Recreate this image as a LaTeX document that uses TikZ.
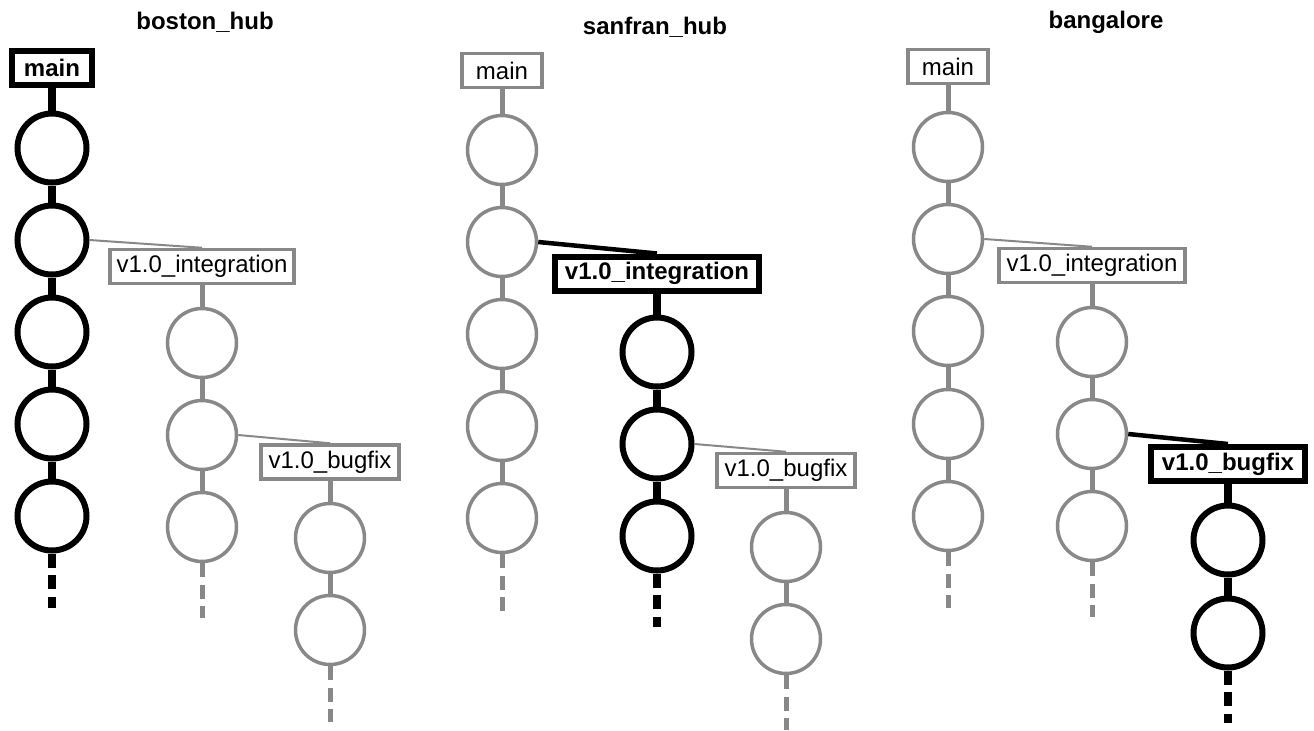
\documentclass[tikz,border=0pt]{standalone}
\usepackage{fontspec}
\setmainfont{Liberation Sans}
\definecolor{lg}{RGB}{136,136,136}
\tikzset{
  ttl/.style={font=\bfseries\fontsize{12pt}{14pt}\selectfont, inner sep=0pt},
  bbox/.style={draw=black, line width=3pt, fill=white, minimum height=17pt, inner sep=0pt, font=\bfseries\fontsize{12pt}{14pt}\selectfont},
  gbox/.style={draw=lg, line width=1.75pt, fill=white, minimum height=17pt, inner sep=0pt, font=\fontsize{12pt}{14pt}\selectfont},
  bc/.style={circle, draw=black, line width=3pt, minimum size=34.5pt, inner sep=0pt},
  gc/.style={circle, draw=lg, line width=1.75pt, minimum size=34.5pt, inner sep=0pt},
  bl/.style={draw=black, line width=4pt},
  gl/.style={draw=lg, line width=2.5pt},
  btail/.style={bl, dash pattern=on 7pt off 3.75pt},
  gtail/.style={gl, dash pattern=on 7pt off 3.75pt},
  bbr/.style={draw=black, line width=2.25pt},
  gbr/.style={draw=lg, line width=1pt},
}
\begin{document}
\begin{tikzpicture}[x=0.5pt,y=-0.5pt]
\useasboundingbox (0,0) rectangle (1314,730);
% ---------------- boston_hub ----------------
\node[ttl] (t1) at (205,22) {boston\_hub};
\node[bbox, minimum width=40pt] (m1) at (52,68) {main};
\node[bc] (a11) at (52,148) {};
\node[bc] (a12) at (52,240) {};
\node[bc] (a13) at (52,332) {};
\node[bc] (a14) at (52,424) {};
\node[bc] (a15) at (52,516) {};
\coordinate (a1e) at (52,608);
\node[gbox, minimum width=92pt] (i1) at (202,266.5) {v1.0\_integration};
\node[gc] (b11) at (202,343) {};
\node[gc] (b12) at (202,435) {};
\node[gc] (b13) at (202,527) {};
\coordinate (b1e) at (202,618);
\node[gbox, minimum width=69pt] (f1) at (330,462) {v1.0\_bugfix};
\node[gc] (c11) at (330,538) {};
\node[gc] (c12) at (330,630) {};
\coordinate (c1e) at (330,722);
\draw[bl] (m1.south) -- (a11.north) (a11.south) -- (a12.north) (a12.south) -- (a13.north) (a13.south) -- (a14.north) (a14.south) -- (a15.north);
\draw[btail] (a15.south) -- (a1e);
\draw[gbr] (a12.east) -- (i1.north);
\draw[gl] (i1.south) -- (b11.north) (b11.south) -- (b12.north) (b12.south) -- (b13.north);
\draw[gtail] (b13.south) -- (b1e);
\draw[gbr] (b12.east) -- (f1.north);
\draw[gl] (f1.south) -- (c11.north) (c11.south) -- (c12.north);
\draw[gtail] (c12.south) -- (c1e);
% ---------------- sanfran_hub ----------------
\node[ttl] (t2) at (655,27) {sanfran\_hub};
\node[gbox, minimum width=40pt] (m2) at (502,70.5) {main};
\node[gc] (a21) at (502,150) {};
\node[gc] (a22) at (502,242) {};
\node[gc] (a23) at (502,334) {};
\node[gc] (a24) at (502,426) {};
\node[gc] (a25) at (502,518) {};
\coordinate (a2e) at (502,612);
\node[bbox, minimum width=102pt] (i2) at (657,273.5) {v1.0\_integration};
\node[bc] (b21) at (657,352) {};
\node[bc] (b22) at (657,444) {};
\node[bc] (b23) at (657,536) {};
\coordinate (b2e) at (657,627);
\node[gbox, minimum width=69pt] (f2) at (786,470.5) {v1.0\_bugfix};
\node[gc] (c21) at (786,547) {};
\node[gc] (c22) at (786,639) {};
\coordinate (c2e) at (786,730);
\draw[gl] (m2.south) -- (a21.north) (a21.south) -- (a22.north) (a22.south) -- (a23.north) (a23.south) -- (a24.north) (a24.south) -- (a25.north);
\draw[gtail] (a25.south) -- (a2e);
\draw[bbr] (a22.east) -- (i2.north);
\draw[bl] (i2.south) -- (b21.north) (b21.south) -- (b22.north) (b22.south) -- (b23.north);
\draw[btail] (b23.south) -- (b2e);
\draw[gbr] (b22.east) -- (f2.north);
\draw[gl] (f2.south) -- (c21.north) (c21.south) -- (c22.north);
\draw[gtail] (c22.south) -- (c2e);
% ---------------- bangalore ----------------
\node[ttl] (t3) at (1106,22) {bangalore};
\node[gbox, minimum width=40pt] (m3) at (948,66.5) {main};
\node[gc] (a31) at (948,147) {};
\node[gc] (a32) at (948,239) {};
\node[gc] (a33) at (948,331) {};
\node[gc] (a34) at (948,424) {};
\node[gc] (a35) at (948,516) {};
\coordinate (a3e) at (948,608);
\node[gbox, minimum width=93pt] (i3) at (1092,265.5) {v1.0\_integration};
\node[gc] (b31) at (1092,342) {};
\node[gc] (b32) at (1092,434) {};
\node[gc] (b33) at (1092,526) {};
\coordinate (b3e) at (1092,617);
\node[bbox, minimum width=77pt] (f3) at (1228,464) {v1.0\_bugfix};
\node[bc] (c31) at (1228,540) {};
\node[bc] (c32) at (1228,633) {};
\coordinate (c3e) at (1228,723);
\draw[gl] (m3.south) -- (a31.north) (a31.south) -- (a32.north) (a32.south) -- (a33.north) (a33.south) -- (a34.north) (a34.south) -- (a35.north);
\draw[gtail] (a35.south) -- (a3e);
\draw[gbr] (a32.east) -- (i3.north);
\draw[gl] (i3.south) -- (b31.north) (b31.south) -- (b32.north) (b32.south) -- (b33.north);
\draw[gtail] (b33.south) -- (b3e);
\draw[bbr] (b32.east) -- (f3.north);
\draw[bl] (f3.south) -- (c31.north) (c31.south) -- (c32.north);
\draw[btail] (c32.south) -- (c3e);
\end{tikzpicture}
\end{document}
